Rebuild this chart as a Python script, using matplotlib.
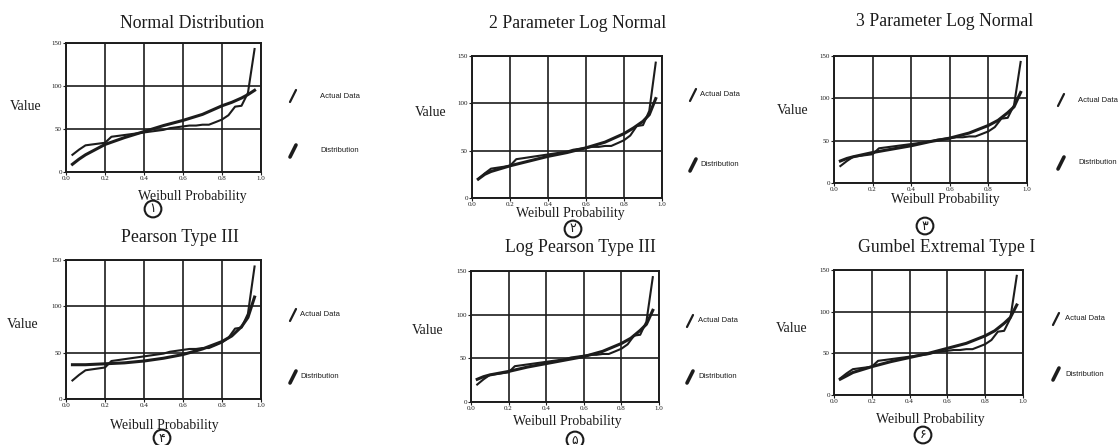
import matplotlib
matplotlib.use("Agg")
import matplotlib.pyplot as plt
from matplotlib.lines import Line2D

plt.rcParams['font.family'] = ['Liberation Serif', 'DejaVu Sans']

# Weibull probabilities of the observed (sorted) data, m/(n+1)
weibull_p = [0.033, 0.067, 0.100, 0.133, 0.167, 0.200, 0.233, 0.267, 0.300, 0.333,
             0.367, 0.400, 0.433, 0.467, 0.500, 0.533, 0.567, 0.600, 0.633, 0.667,
             0.700, 0.733, 0.767, 0.800, 0.833, 0.867, 0.900, 0.933, 0.967]
actual_data = [20, 26, 31, 32, 33, 34, 41, 42, 43, 44,
               45, 46, 47, 48, 49, 51, 52, 53, 54, 54,
               55, 55, 58, 61, 66, 76, 77, 92, 143]

# fitted distribution curves
dist_p = [0.033, 0.067, 0.1, 0.2, 0.3, 0.4, 0.5, 0.6, 0.7, 0.8, 0.85, 0.9, 0.933, 0.967]
normal = [9, 15, 20, 32, 40, 47, 54, 60, 67, 77, 81, 86, 90, 95]
lognorm2 = [20, 25, 28, 34, 39, 44, 48, 53, 59, 68, 74, 81, 88, 105]
lognorm3 = [26, 29, 31, 36, 40, 44, 49, 53, 59, 68, 74, 83, 90, 107]
pearson3 = [37, 37, 37, 38, 39, 41, 44, 48, 54, 62, 68, 78, 88, 110]
logpearson3 = [26, 29, 31, 35, 40, 44, 48, 52, 58, 67, 73, 82, 89, 105]
gumbel = [19, 23, 27, 34, 40, 45, 50, 56, 62, 71, 77, 86, 93, 108]

titles = ['Normal Distribution', '2 Parameter Log Normal', '3 Parameter Log Normal',
          'Pearson Type III', 'Log Pearson Type III', 'Gumbel Extremal Type I']
curves = [normal, lognorm2, lognorm3, pearson3, logpearson3, gumbel]
numbers = ['۱', '۲', '۳', '۴', '۵', '۶']

x_ticks = [0.0, 0.2, 0.4, 0.6, 0.8, 1.0]
y_ticks = [0, 50, 100, 150]

W, H = 1118, 445
fig = plt.figure(figsize=(W / 100, H / 100), dpi=100)
ink = '#1c1c1c'

# pixel layout: axes box (left, right, top, bottom), title, Value, xlabel, circle, legend
layout = [
    dict(box=(66, 261, 43, 172), title=(192, 23), value=(26, 107), xlab=(192, 197),
         circ=(153, 209), leg=(293, 96, 151, 320)),
    dict(box=(472, 662, 56, 198), title=(578, 23), value=(431, 113), xlab=(570, 213),
         circ=(573, 229), leg=(693, 95, 165, 700)),
    dict(box=(834, 1027, 56, 183), title=(945, 22), value=(793, 110), xlab=(945, 200),
         circ=(925, 226), leg=(1061, 100, 163, 1078)),
    dict(box=(66, 261, 260, 399), title=(180, 237), value=(23, 325), xlab=(164, 425),
         circ=(162, 438), leg=(293, 315, 377, 300)),
    dict(box=(471, 659, 271, 402), title=(580, 248), value=(428, 330), xlab=(567, 422),
         circ=(575, 440), leg=(690, 321, 377, 698)),
    dict(box=(834, 1023, 270, 395), title=(947, 248), value=(792, 328), xlab=(930, 420),
         circ=(923, 435), leg=(1056, 319, 374, 1065)),
]


def fx(px):
    return px / W


def fy(py):
    return 1 - py / H


def slash(x, y, lw):
    fig.add_artist(Line2D([fx(x - 3), fx(x + 3)], [fy(y + 6), fy(y - 6)],
                          color=ink, lw=lw, solid_capstyle='round'))


for i, lay in enumerate(layout):
    l, r, t, b = lay['box']
    ax = fig.add_axes([fx(l), fy(b), (r - l) / W, (b - t) / H])
    ax.plot(weibull_p, actual_data, color=ink, lw=1.5, zorder=3)
    ax.plot(dist_p, curves[i], color=ink, lw=2.2, zorder=4)
    ax.set_xlim(0, 1)
    ax.set_ylim(0, 150)
    ax.set_xticks(x_ticks)
    ax.set_xticklabels(['%.1f' % v for v in x_ticks])
    ax.set_yticks(y_ticks)
    ax.tick_params(labelsize=5, length=2, width=0.8, pad=1, colors=ink)
    ax.grid(True, color=ink, lw=1.2)
    for s in ax.spines.values():
        s.set_linewidth(1.4)
        s.set_color(ink)

    fig.text(fx(lay['title'][0]), fy(lay['title'][1]), titles[i], ha='center', va='center',
             fontsize=12.8, color=ink)
    fig.text(fx(lay['value'][0]), fy(lay['value'][1]), 'Value', ha='center', va='center',
             fontsize=10, color=ink)
    fig.text(fx(lay['xlab'][0]), fy(lay['xlab'][1]), 'Weibull Probability', ha='center',
             va='center', fontsize=10, color=ink)
    fig.text(fx(lay['circ'][0]), fy(lay['circ'][1]), numbers[i], ha='center', va='center',
             fontsize=9, family=['DejaVu Sans'], color=ink,
             bbox=dict(boxstyle='circle,pad=0.15', fc='white', ec=ink, lw=1.5))

    sx, y1, y2, tx = lay['leg']
    slash(sx, y1, 1.6)
    slash(sx, y2, 2.6)
    fig.text(fx(tx), fy(y1), 'Actual Data', ha='left', va='center', fontsize=5.5,
             family=['Liberation Sans'], color=ink)
    fig.text(fx(tx), fy(y2), 'Distribution', ha='left', va='center', fontsize=5.5,
             family=['Liberation Sans'], color=ink)

fig.savefig('out.png', dpi=100)
